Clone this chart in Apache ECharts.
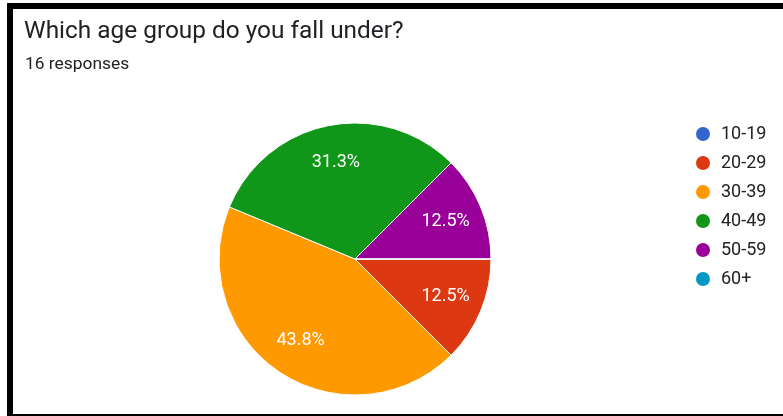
<!DOCTYPE html>
<html>
<head>
<meta charset="utf-8">
<script src="https://cdn.jsdelivr.net/npm/echarts@6/dist/echarts.min.js"></script>
<style>
  html, body { margin: 0; padding: 0; background: #ffffff; }
  #chart { width: 783px; height: 416px; }
</style>
</head>
<body>
<div id="chart"></div>
<script>
// Survey question and response summary
const titleText = 'Which age group do you fall under?';
const subtitleText = '16 responses';

// Answer options and how many people picked each
const ageGroups = ['10-19', '20-29', '30-39', '40-49', '50-59', '60+'];
const responseCounts = [0, 2, 7, 5, 2, 0];

// Slice colours, one per age group
const sliceColors = ['#3366cc', '#dc3912', '#ff9900', '#109618', '#990099', '#0099c6'];

const totalResponses = responseCounts.reduce((a, b) => a + b, 0);
const pieData = ageGroups.map((name, i) => ({
  name: name,
  value: responseCounts[i],
  itemStyle: { color: sliceColors[i] }
}));

function percentLabel(p) {
  if (!p.value) return '';
  return (p.value / totalResponses * 100).toFixed(1) + '%';
}

const FONT = 'Roboto, "Noto Sans", Arial, sans-serif';
const chart = echarts.init(document.getElementById('chart'), null, { renderer: 'canvas' });

chart.setOption({
  backgroundColor: '#ffffff',
  animation: false,
  title: [
    {
      text: titleText,
      left: 24,
      top: 20,
      padding: 0,
      textStyle: { fontFamily: FONT, fontSize: 24.4, fontWeight: 'normal', color: '#202124' }
    },
    {
      text: subtitleText,
      left: 25,
      top: 56,
      padding: 0,
      textStyle: { fontFamily: FONT, fontSize: 17.4, fontWeight: 'normal', color: '#202124' }
    }
  ],
  legend: {
    orient: 'vertical',
    left: 694,
    top: 125,
    padding: 0,
    icon: 'circle',
    itemWidth: 16,
    itemHeight: 16,
    itemGap: 11,
    data: ageGroups,
    selectedMode: false,
    textStyle: { fontFamily: FONT, fontSize: 18, color: '#222222', padding: [0, 0, 0, 5] }
  },
  // frame lines along the left, top and bottom edges
  graphic: [
    { type: 'rect', left: 7, top: 3, shape: { width: 6, height: 413 }, style: { fill: '#000000' } },
    { type: 'rect', left: 7, top: 3, shape: { width: 776, height: 6 }, style: { fill: '#000000' } },
    { type: 'rect', left: 7, top: 414, shape: { width: 776, height: 2 }, style: { fill: '#000000' } }
  ],
  series: [
    {
      type: 'pie',
      center: [355, 259],
      radius: [0, 136],
      startAngle: 0,
      clockwise: true,
      silent: true,
      label: { show: false },
      labelLine: { show: false },
      itemStyle: { borderColor: '#ffffff', borderWidth: 1 },
      emphasis: { disabled: true },
      data: pieData
    },
    {
      // transparent ring that carries the percentage labels
      type: 'pie',
      center: [355, 259],
      radius: [54, 136],
      startAngle: 0,
      clockwise: true,
      silent: true,
      itemStyle: { color: 'rgba(0,0,0,0)', borderWidth: 0 },
      label: {
        show: true,
        position: 'inside',
        formatter: percentLabel,
        fontFamily: FONT,
        fontSize: 18,
        color: '#ffffff'
      },
      labelLine: { show: false },
      emphasis: { disabled: true },
      data: ageGroups.map((name, i) => ({ name: name, value: responseCounts[i] }))
    }
  ]
});
</script>
</body>
</html>
